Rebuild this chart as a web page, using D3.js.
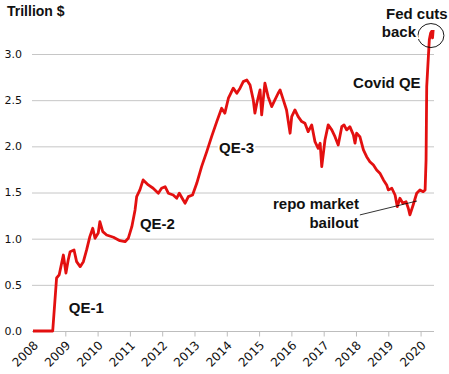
<!DOCTYPE html>
<html>
<head>
<meta charset="utf-8">
<script src="https://cdn.jsdelivr.net/npm/d3@7"></script>
<style>
  body { margin: 0; background: #fff; }
  svg { display: block; }
</style>
</head>
<body>
<svg id="chart" width="449" height="374"></svg>
<script>
// reserves, trillion $ (decimal years)
var years = [2008.00, 2008.61, 2008.73, 2008.81, 2008.94, 2009.02, 2009.09, 2009.15, 2009.27, 2009.35,
  2009.46, 2009.56, 2009.66, 2009.76, 2009.85, 2009.92, 2010.02, 2010.07, 2010.16, 2010.28,
  2010.49, 2010.69, 2010.85, 2010.95, 2011.06, 2011.16, 2011.21, 2011.31, 2011.41, 2011.57,
  2011.72, 2011.88, 2011.98, 2012.09, 2012.19, 2012.34, 2012.45, 2012.53, 2012.65, 2012.71,
  2012.81, 2012.94, 2013.07, 2013.22, 2013.38, 2013.53, 2013.69, 2013.84, 2013.94, 2014.05,
  2014.10, 2014.20, 2014.31, 2014.41, 2014.51, 2014.62, 2014.72, 2014.82, 2014.87, 2014.93,
  2015.03, 2015.08, 2015.18, 2015.28, 2015.39, 2015.49, 2015.59, 2015.65, 2015.75, 2015.85,
  2015.96, 2016.01, 2016.11, 2016.21, 2016.32, 2016.42, 2016.52, 2016.63, 2016.73, 2016.83,
  2016.89, 2016.94, 2017.04, 2017.14, 2017.25, 2017.35, 2017.45, 2017.56, 2017.63, 2017.71,
  2017.81, 2017.92, 2017.97, 2018.02, 2018.12, 2018.23, 2018.33, 2018.43, 2018.54, 2018.64,
  2018.74, 2018.85, 2018.95, 2019.00, 2019.11, 2019.21, 2019.28, 2019.36, 2019.45, 2019.55,
  2019.62, 2019.67, 2019.77, 2019.88, 2019.98, 2020.08, 2020.14, 2020.17, 2020.19, 2020.27,
  2020.31, 2020.34, 2020.37, 2020.39];
var reserves = [0, 0, 0.574, 0.607, 0.823, 0.628, 0.769, 0.859, 0.878, 0.751,
  0.697, 0.751, 0.878, 1.022, 1.113, 1.004, 1.062, 1.184, 1.076, 1.040,
  1.015, 0.978, 0.967, 1.004, 1.130, 1.311, 1.455, 1.528, 1.636, 1.582,
  1.546, 1.492, 1.546, 1.563, 1.492, 1.473, 1.438, 1.492, 1.419, 1.384,
  1.455, 1.473, 1.600, 1.780, 1.943, 2.105, 2.268, 2.413, 2.359, 2.521,
  2.557, 2.630, 2.575, 2.630, 2.701, 2.719, 2.665, 2.503, 2.359, 2.467,
  2.611, 2.340, 2.684, 2.538, 2.430, 2.503, 2.575, 2.611, 2.503, 2.394,
  2.142, 2.322, 2.394, 2.322, 2.268, 2.250, 2.159, 2.232, 2.051, 1.979,
  2.034, 1.780, 2.069, 2.232, 2.178, 2.105, 2.015, 2.213, 2.232, 2.178,
  2.213, 2.124, 2.034, 2.142, 2.105, 1.961, 1.888, 1.834, 1.798, 1.744,
  1.709, 1.636, 1.582, 1.528, 1.546, 1.473, 1.347, 1.438, 1.384, 1.401,
  1.329, 1.257, 1.365, 1.492, 1.528, 1.509, 1.528, 1.853, 2.647, 3.153,
  3.225, 3.243, 3.174, 3.26];

var yTicks = [0, 0.5, 1.0, 1.5, 2.0, 2.5, 3.0];
var xTicks = [2009, 2010, 2011, 2012, 2013, 2014, 2015, 2016, 2017, 2018, 2019, 2020];
var xLabels = [2008, 2009, 2010, 2011, 2012, 2013, 2014, 2015, 2016, 2017, 2018, 2019, 2020];

var notes = [
  { text: "QE-1", year: 2009.11, value: 0.195, anchor: "start" },
  { text: "QE-2", year: 2011.31, value: 1.105, anchor: "start" },
  { text: "QE-3", year: 2013.76, value: 1.929, anchor: "start" },
  { text: "Covid QE", year: 2017.91, value: 2.627, anchor: "start" },
  { text: "Fed cuts", year: 2018.93, value: 3.38, anchor: "start" },
  { text: "back", year: 2018.80, value: 3.18, anchor: "start" },
  { text: "repo market", year: 2018.09, value: 1.32, anchor: "end" },
  { text: "bailout", year: 2018.08, value: 1.116, anchor: "end" }
];

var data = years.map(function(d, i) { return { year: d, value: reserves[i] }; });

var svg = d3.select("#chart");

var x = d3.scaleLinear().domain([2008, 2020.4]).range([33, 433.5]);
var y = d3.scaleLinear().domain([0, 3]).range([331, 54]);

// gridlines
svg.append("g")
    .selectAll("line")
    .data(yTicks.slice(1))
    .join("line")
    .attr("x1", 32)
    .attr("x2", 434)
    .attr("y1", function(d) { return y(d) + 0.5; })
    .attr("y2", function(d) { return y(d) + 0.5; })
    .attr("stroke", "#c6c6c6")
    .attr("stroke-width", 1);

// y labels
svg.append("g")
    .selectAll("text")
    .data(yTicks)
    .join("text")
    .attr("x", 22)
    .attr("y", function(d) { return y(d); })
    .attr("dy", "0.36em")
    .attr("text-anchor", "end")
    .attr("font-family", "DejaVu Sans, sans-serif")
    .attr("font-size", 11)
    .attr("fill", "#111")
    .text(function(d) { return d3.format(".1f")(d); });

// x axis
var xAxis = svg.append("g")
    .attr("transform", "translate(0,331.5)")
    .call(d3.axisBottom(x).tickValues(xTicks).tickSize(5).tickFormat(""));
xAxis.select(".domain").attr("d", "M32,0H434").attr("stroke", "#bdbdbd");
xAxis.selectAll(".tick line").attr("stroke", "#bdbdbd");

svg.append("g")
    .selectAll("text")
    .data(xLabels)
    .join("text")
    .attr("transform", function(d) { return "translate(" + (x(d) + 3) + ",343) rotate(-45)"; })
    .attr("dy", "0.35em")
    .attr("text-anchor", "end")
    .attr("font-family", "DejaVu Sans, sans-serif")
    .attr("font-size", 12)
    .attr("fill", "#111")
    .text(function(d) { return d; });

// the series
var line = d3.line()
    .x(function(d) { return x(d.year); })
    .y(function(d) { return y(d.value); });

svg.append("path")
    .datum(data)
    .attr("d", line)
    .attr("fill", "none")
    .attr("stroke", "#e31010")
    .attr("stroke-width", 2.8)
    .attr("stroke-linejoin", "round");

// title
svg.append("text")
    .attr("x", 7)
    .attr("y", 16)
    .attr("font-family", "Liberation Sans, Arial, sans-serif")
    .attr("font-weight", "bold")
    .attr("font-size", 14)
    .attr("fill", "#111")
    .text("Trillion $");

// annotations
svg.append("line")
    .attr("x1", x(2018.12)).attr("y1", y(1.257))
    .attr("x2", x(2019.89)).attr("y2", y(1.408))
    .attr("stroke", "#000").attr("stroke-width", 0.8);

svg.append("ellipse")
    .attr("cx", x(2020.32)).attr("cy", y(3.20))
    .attr("rx", 13).attr("ry", 12)
    .attr("fill", "none").attr("stroke", "#000").attr("stroke-width", 0.9);

svg.append("g")
    .selectAll("text")
    .data(notes)
    .join("text")
    .attr("x", function(d) { return x(d.year); })
    .attr("y", function(d) { return y(d.value); })
    .attr("text-anchor", function(d) { return d.anchor; })
    .attr("font-family", "Liberation Sans, Arial, sans-serif")
    .attr("font-weight", "bold")
    .attr("font-size", 15)
    .attr("fill", "#111")
    .attr("stroke", "#fff")
    .attr("stroke-width", 4)
    .attr("paint-order", "stroke")
    .text(function(d) { return d.text; });
</script>
</body>
</html>
